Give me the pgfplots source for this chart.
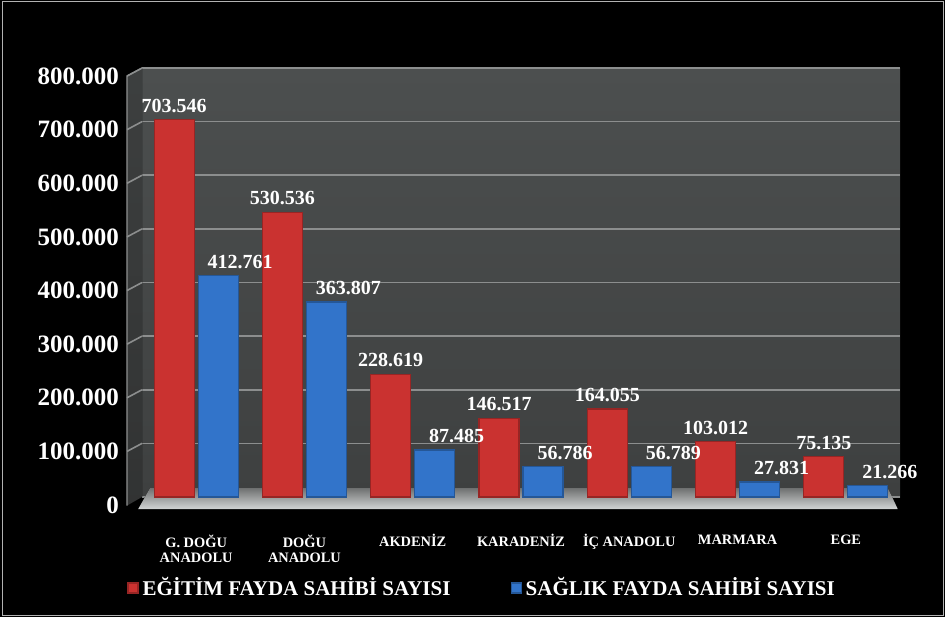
\documentclass[border=0pt]{standalone}
\usepackage{pgfplots}
\pgfplotsset{compat=1.18}
\usepackage{fontspec}
\setmainfont{Liberation Serif}
\definecolor{barred}{RGB}{202,50,48}
\definecolor{barblue}{RGB}{50,116,202}
\definecolor{walltop}{RGB}{76,79,79}
\definecolor{wallbot}{RGB}{62,64,64}
\definecolor{gridc}{RGB}{140,142,142}
\begin{document}
\begin{tikzpicture}[x=0.5pt,y=0.5pt]
\fill[black] (0,0) rectangle (945,617);
\draw[gray!60, line width=0.5pt] (2,2) rectangle (943,615);
\begin{axis}[
  at={(71pt,60pt)}, anchor=south west,
  scale only axis, width=379pt, height=214.5pt,
  xmin=-0.5, xmax=6.5, ymin=0, ymax=800000,
  xtick={0,...,6},
  xticklabels={{G. DOĞU\\ANADOLU},{DOĞU\\ANADOLU},AKDENİZ,KARADENİZ,İÇ ANADOLU,MARMARA,EGE},
  ytick={0,100000,...,800000},
  scaled y ticks=false,
  axis line style={draw=none},
  tick style={draw=none},
  ymajorgrids,
  grid style={gridc, line width=0.8pt},
  axis background/.style={top color=walltop, bottom color=wallbot},
  ybar=2pt, bar width=20pt,
  clip=false,
  yticklabel style={font=\rmfamily\bfseries\fontsize{12.5}{14}\selectfont, text=white, xshift=-8pt, yshift=-4pt},
  xticklabel style={font=\rmfamily\bfseries\fontsize{7.2}{7.6}\selectfont, text=white, align=center, yshift=-11pt},
  nodes near coords,
  every node near coord/.append style={font=\rmfamily\bfseries\fontsize{10}{12}\selectfont, text=white},
  legend columns=2,
  legend style={draw=none, fill=none, text=white,
    font=\rmfamily\bfseries\fontsize{10.5}{12}\selectfont,
    at={(0.45,-0.212)}, anchor=center,
    /tikz/every even column/.append style={column sep=28pt}},
  legend image code/.code={\fill[#1] (0pt,-2.5pt) rectangle (5pt,2.5pt);},
  /pgf/number format/fixed,
  /pgf/number format/precision=0,
  /pgf/number format/1000 sep={.},
  /pgf/number format/assume math mode=true,
]
% left side wall
\fill[top color=walltop!80!black, bottom color=wallbot!80!black]
  (rel axis cs:-0.0198,-0.02) -- (rel axis cs:-0.0198,0.9813) -- (rel axis cs:0,1) -- (rel axis cs:0,0) -- cycle;
\pgfplotsinvokeforeach{1,...,8}{
  \draw[gridc, line width=0.8pt] (rel axis cs:0,#1/8) -- (rel axis cs:-0.0198,#1/8-0.0187);
}
\draw[gridc, line width=0.6pt] (rel axis cs:-0.0198,-0.02) -- (rel axis cs:-0.0198,0.9813) -- (rel axis cs:0,1);
% floor
\fill[top color={rgb,255:red,110;green,112;blue,112}, bottom color={rgb,255:red,210;green,212;blue,212}]
  (rel axis cs:-0.005,-0.028) -- (rel axis cs:0.0106,0.021) -- (rel axis cs:0.984,0.021) -- (rel axis cs:0.997,-0.028) -- cycle;

% EGITIM
\addplot[fill=barred, draw=barred!75!black, line width=0.6pt]
coordinates {(0,703546) (1,530536) (2,228619) (3,146517) (4,164055) (5,103012) (6,75135)};
% SAGLIK
\addplot[fill=barblue, draw=barblue!75!black, line width=0.6pt,
  every node near coord/.append style={xshift=11pt}]
coordinates {(0,412761) (1,363807) (2,87485) (3,56786) (4,56789) (5,27831) (6,21266)};

\legend{EĞİTİM FAYDA SAHİBİ SAYISI, SAĞLIK FAYDA SAHİBİ SAYISI}
\end{axis}
\end{tikzpicture}
\end{document}
